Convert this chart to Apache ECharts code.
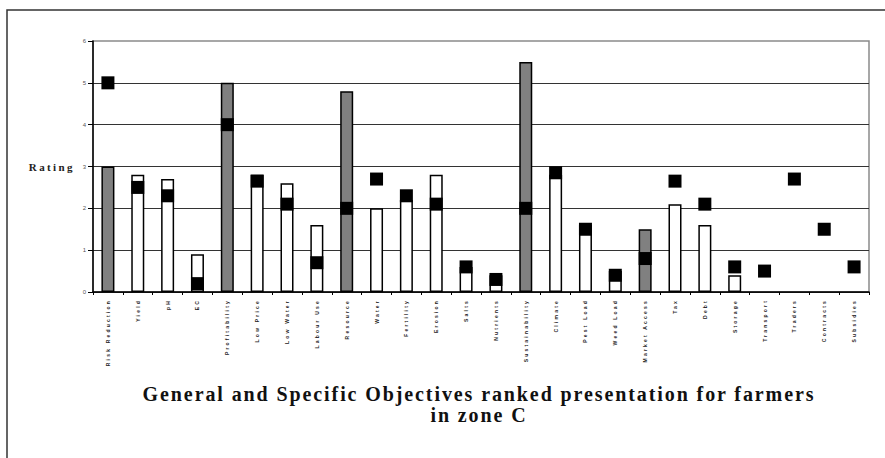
<!DOCTYPE html>
<html>
<head>
<meta charset="utf-8">
<title>Objectives ranking, zone C</title>
<script src="https://cdn.jsdelivr.net/npm/echarts@6/dist/echarts.min.js"></script>
<style>
  html, body { margin: 0; padding: 0; background: #fff; }
  #chart { width: 885px; height: 458px; }
</style>
</head>
<body>
<div id="chart"></div>
<script>
// Objectives (general ones carry a grey bar, specific ones a white bar)
const categories = [
  'Risk Reduction', 'Yield', 'pH', 'EC', 'Profitability', 'Low Price',
  'Low Water', 'Labour Use', 'Resource', 'Water', 'Fertility', 'Erosion',
  'Salts', 'Nutrients', 'Sustainability', 'Climate', 'Pest Load', 'Weed Load',
  'Market Access', 'Tax', 'Debt', 'Storage', 'Transport', 'Traders',
  'Contracts', 'Subsidies'
];

// Rating of the general objectives
const generalRatings = [
  3.0, null, null, null, 5.0, null, null, null, 4.8, null, null, null, null,
  null, 5.5, null, null, null, 1.5, null, null, null, null, null, null, null
];

// Rating of the specific objectives
const specificRatings = [
  null, 2.8, 2.7, 0.9, null, 2.8, 2.6, 1.6, null, 2.0, 2.2, 2.8, 0.6,
  0.4, null, 2.8, 1.6, 0.5, null, 2.1, 1.6, 0.4, null, null, null, null
];

// Ranked presentation score (black squares)
const rankScores = [
  5.0, 2.5, 2.3, 0.2, 4.0, 2.65, 2.1, 0.7, 2.0, 2.7, 2.3, 2.1, 0.6,
  0.3, 2.0, 2.85, 1.5, 0.4, 0.8, 2.65, 2.1, 0.6, 0.5, 2.7, 1.5, 0.6
];

const yMin = 0, yMax = 6, yStep = 1;

const titleLines = [
  'General and Specific Objectives ranked presentation for farmers',
  'in zone C'
];

const serif = "'Liberation Serif', 'Times New Roman', serif";
const chart = echarts.init(document.getElementById('chart'), null, { renderer: 'svg' });

chart.setOption({
  animation: false,
  backgroundColor: '#fff',
  grid: {
    left: 93, top: 41, right: 16, bottom: 166,
    show: true, borderColor: '#8a8a8a', borderWidth: 1.5, backgroundColor: '#fff'
  },
  xAxis: {
    type: 'category',
    data: categories,
    axisLine: { lineStyle: { color: '#000', width: 1.5 } },
    axisTick: { show: true, length: 3, lineStyle: { color: '#000', width: 1 } },
    axisLabel: {
      interval: 0, rotate: 90, fontSize: 5, color: '#222', fontWeight: 'bold',
      fontFamily: "'Liberation Sans', Arial, sans-serif", margin: 7
    },
    splitLine: { show: false }
  },
  yAxis: {
    type: 'value',
    min: yMin, max: yMax, interval: yStep,
    name: 'Rating',
    nameLocation: 'middle',
    nameRotate: 0,
    nameGap: 18,
    nameTextStyle: { fontFamily: serif, fontWeight: 'bold', fontSize: 11, color: '#222' },
    axisLine: { show: true, lineStyle: { color: '#000', width: 1.5 } },
    axisTick: { show: true, length: 5, lineStyle: { color: '#000', width: 1 } },
    axisLabel: { fontSize: 6, color: '#555', margin: 7, fontFamily: "'Liberation Sans', Arial, sans-serif" },
    splitLine: { show: true, showMaxLine: false, lineStyle: { color: '#333', width: 1 } }
  },
  series: [
    {
      name: 'General objectives',
      type: 'bar',
      data: generalRatings,
      barWidth: 13,
      barGap: '-100%',
      itemStyle: { color: '#808080', borderColor: '#000', borderWidth: 1.5 },
      z: 2
    },
    {
      name: 'Specific objectives',
      type: 'bar',
      data: specificRatings,
      barWidth: 13,
      barGap: '-100%',
      itemStyle: { color: '#fff', borderColor: '#000', borderWidth: 1.5 },
      z: 2
    },
    {
      name: 'Ranked presentation',
      type: 'scatter',
      data: rankScores,
      symbol: 'rect',
      symbolSize: 13,
      itemStyle: { color: '#000', opacity: 1 },
      z: 5
    }
  ],
  graphic: [
    {
      type: 'rect',
      shape: { x: 7, y: 10, width: 1000, height: 1000 },
      style: { fill: 'none', stroke: '#333', lineWidth: 1.5 },
      silent: true,
      z: -10
    },
    {
      type: 'text',
      x: 479, y: 393.5,
      style: {
        text: titleLines[0], fontFamily: serif, fontWeight: 'bold', fontSize: 20,
        fill: '#111', textAlign: 'center', textVerticalAlign: 'middle'
      }
    },
    {
      type: 'text',
      x: 479, y: 415,
      style: {
        text: titleLines[1], fontFamily: serif, fontWeight: 'bold', fontSize: 20,
        fill: '#111', textAlign: 'center', textVerticalAlign: 'middle'
      }
    }
  ]
});

// Widen the spacing between letters of the text, as the printed chart does
function spaceLetters() {
  document.querySelectorAll('#chart svg text').forEach(function (t) {
    const fs = parseFloat(getComputedStyle(t).fontSize) || 12;
    let ls = 0;
    if (fs >= 15) ls = 1.9;
    else if (fs >= 9) ls = 2.4;
    else if (fs <= 5) ls = 2.2;
    if (ls) t.setAttribute('letter-spacing', ls + 'px');
  });
}
chart.on('finished', spaceLetters);
spaceLetters();
</script>
</body>
</html>
